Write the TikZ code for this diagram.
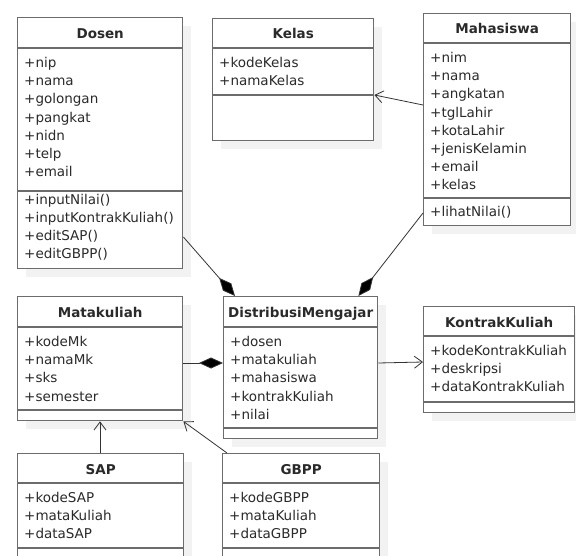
\documentclass[tikz,border=0pt]{standalone}
\usepackage{fontspec}
\setmainfont{DejaVu Sans}
\usetikzlibrary{calc,arrows.meta,shadows}
\definecolor{boxgray}{HTML}{6C6C6C}
\definecolor{shadowgray}{HTML}{F2F2F2}
\definecolor{txt}{HTML}{2A2A2A}
\definecolor{linec}{HTML}{333333}
\tikzset{
  classbox/.style={draw=boxgray, line width=1.4pt, fill=white, anchor=north west,
    inner sep=0pt, drop shadow={shadow xshift=8pt, shadow yshift=-8pt,
    fill=shadowgray, opacity=1}},
  classline/.style={draw=boxgray, line width=1.4pt},
  classtitle/.style={font=\fontsize{13.5}{16}\selectfont\bfseries, text=txt,
    anchor=base, inner sep=0pt},
  member/.style={font=\fontsize{13.5}{16}\selectfont, text=txt,
    anchor=base west, inner sep=0pt},
  assoc/.style={draw=linec, line width=0.8pt,
    -{Straight Barb[length=8pt,width=12pt]}},
  compo/.style={draw=linec, line width=0.8pt,
    -{Diamond[length=24pt,width=11pt,fill=black]}},
}
\begin{document}
\begin{tikzpicture}[x=1pt,y=-1pt]
\useasboundingbox (0,0) rectangle (576,556);
\clip (0,0) rectangle (576,556);

% ---- Dosen
\node[classbox, minimum width=165pt, minimum height=251pt] (dosen) at (17,17) {};
\draw[classline] ($(dosen.north west)+(0,31)$) -- ($(dosen.north east)+(0,31)$);
\draw[classline] ($(dosen.north west)+(0,174)$) -- ($(dosen.north east)+(0,174)$);
\node[classtitle] (dosen-t) at ($(dosen.north)+(0,22)$) {Dosen};
\foreach \m [count=\i from 0] in {+nip,+nama,+golongan,+pangkat,+nidn,+telp,+email}
  \node[member] (dosen-a\i) at ($(dosen.north west)+(7,{50.5+18.2*\i})$) {\m};
\foreach \m [count=\i from 0] in {+inputNilai(),+inputKontrakKuliah(),+editSAP(),+editGBPP()}
  \node[member] (dosen-m\i) at ($(dosen.north west)+(7,{187.5+18.1*\i})$) {\m};

% ---- Kelas
\node[classbox, minimum width=161pt, minimum height=122pt] (kelas) at (212,18) {};
\draw[classline] ($(kelas.north west)+(0,30)$) -- ($(kelas.north east)+(0,30)$);
\draw[classline] ($(kelas.north west)+(0,77)$) -- ($(kelas.north east)+(0,77)$);
\node[classtitle] (kelas-t) at ($(kelas.north)+(0,21)$) {Kelas};
\foreach \m [count=\i from 0] in {+kodeKelas,+namaKelas}
  \node[member] (kelas-a\i) at ($(kelas.north west)+(7,{49.5+18.2*\i})$) {\m};

% ---- Mahasiswa
\node[classbox, minimum width=147pt, minimum height=212pt] (mhs) at (423,13) {};
\draw[classline] ($(mhs.north west)+(0,30)$) -- ($(mhs.north east)+(0,30)$);
\draw[classline] ($(mhs.north west)+(0,185)$) -- ($(mhs.north east)+(0,185)$);
\node[classtitle] (mhs-t) at ($(mhs.north)+(0,21)$) {Mahasiswa};
\foreach \m [count=\i from 0] in {+nim,+nama,+angkatan,+tglLahir,+kotaLahir,+jenisKelamin,+email,+kelas}
  \node[member] (mhs-a\i) at ($(mhs.north west)+(7,{49.5+18.2*\i})$) {\m};
\node[member] (mhs-m0) at ($(mhs.north west)+(7,203.5)$) {+lihatNilai()};

% ---- Matakuliah
\node[classbox, minimum width=165pt, minimum height=124pt] (mk) at (17,296) {};
\draw[classline] ($(mk.north west)+(0,31)$) -- ($(mk.north east)+(0,31)$);
\draw[classline] ($(mk.north west)+(0,114)$) -- ($(mk.north east)+(0,114)$);
\node[classtitle] (mk-t) at ($(mk.north)+(0,22)$) {Matakuliah};
\foreach \m [count=\i from 0] in {+kodeMk,+namaMk,+sks,+semester}
  \node[member] (mk-a\i) at ($(mk.north west)+(7,{50.5+18.2*\i})$) {\m};

% ---- DistribusiMengajar
\node[classbox, minimum width=154pt, minimum height=142pt] (dm) at (223,296) {};
\draw[classline] ($(dm.north west)+(0,31)$) -- ($(dm.north east)+(0,31)$);
\draw[classline] ($(dm.north west)+(0,132)$) -- ($(dm.north east)+(0,132)$);
\node[classtitle] (dm-t) at ($(dm.north)+(0,22)$) {DistribusiMengajar};
\foreach \m [count=\i from 0] in {+dosen,+matakuliah,+mahasiswa,+kontrakKuliah,+nilai}
  \node[member] (dm-a\i) at ($(dm.north west)+(7,{50.5+18.2*\i})$) {\m};

% ---- KontrakKuliah
\node[classbox, minimum width=151pt, minimum height=106pt] (kk) at (423,306) {};
\draw[classline] ($(kk.north west)+(0,30)$) -- ($(kk.north east)+(0,30)$);
\draw[classline] ($(kk.north west)+(0,96)$) -- ($(kk.north east)+(0,96)$);
\node[classtitle] (kk-t) at ($(kk.north)+(0,21)$) {KontrakKuliah};
\foreach \m [count=\i from 0] in {+kodeKontrakKuliah,+deskripsi,+dataKontrakKuliah}
  \node[member] (kk-a\i) at ($(kk.north west)+(7,{49.5+18.2*\i})$) {\m};

% ---- SAP
\node[classbox, minimum width=166pt, minimum height=130pt] (sap) at (17,453) {};
\draw[classline] ($(sap.north west)+(0,30)$) -- ($(sap.north east)+(0,30)$);
\draw[classline] ($(sap.north west)+(0,95)$) -- ($(sap.north east)+(0,95)$);
\node[classtitle] (sap-t) at ($(sap.north)+(0,21)$) {SAP};
\foreach \m [count=\i from 0] in {+kodeSAP,+mataKuliah,+dataSAP}
  \node[member] (sap-a\i) at ($(sap.north west)+(7,{49.5+18.2*\i})$) {\m};

% ---- GBPP
\node[classbox, minimum width=157pt, minimum height=130pt] (gbpp) at (222,453) {};
\draw[classline] ($(gbpp.north west)+(0,30)$) -- ($(gbpp.north east)+(0,30)$);
\draw[classline] ($(gbpp.north west)+(0,95)$) -- ($(gbpp.north east)+(0,95)$);
\node[classtitle] (gbpp-t) at ($(gbpp.north)+(0,21)$) {GBPP};
\foreach \m [count=\i from 0] in {+kodeGBPP,+mataKuliah,+dataGBPP}
  \node[member] (gbpp-a\i) at ($(gbpp.north west)+(7,{49.5+18.2*\i})$) {\m};

% ---- relations
\draw[assoc] ($(mhs.north west)+(0,92)$) -- ($(kelas.north east)+(0,77)$);
\draw[compo] ($(dosen.north east)+(0,220)$) -- ($(dm.north west)+(12,0)$);
\draw[compo] ($(mhs.north west)+(0,200)$) -- ($(dm.north east)+(-20,0)$);
\draw[compo] ($(mk.north east)+(0,67)$) -- ($(dm.north west)+(0,67)$);
\draw[assoc] ($(dm.north east)+(0,67)$) -- ($(kk.north west)+(0,56)$);
\draw[assoc] ($(sap.north west)+(83,0)$) -- ($(mk.south west)+(83,0)$);
\draw[assoc] ($(gbpp.north west)+(5,0)$) -- (mk.south east);
\end{tikzpicture}
\end{document}
